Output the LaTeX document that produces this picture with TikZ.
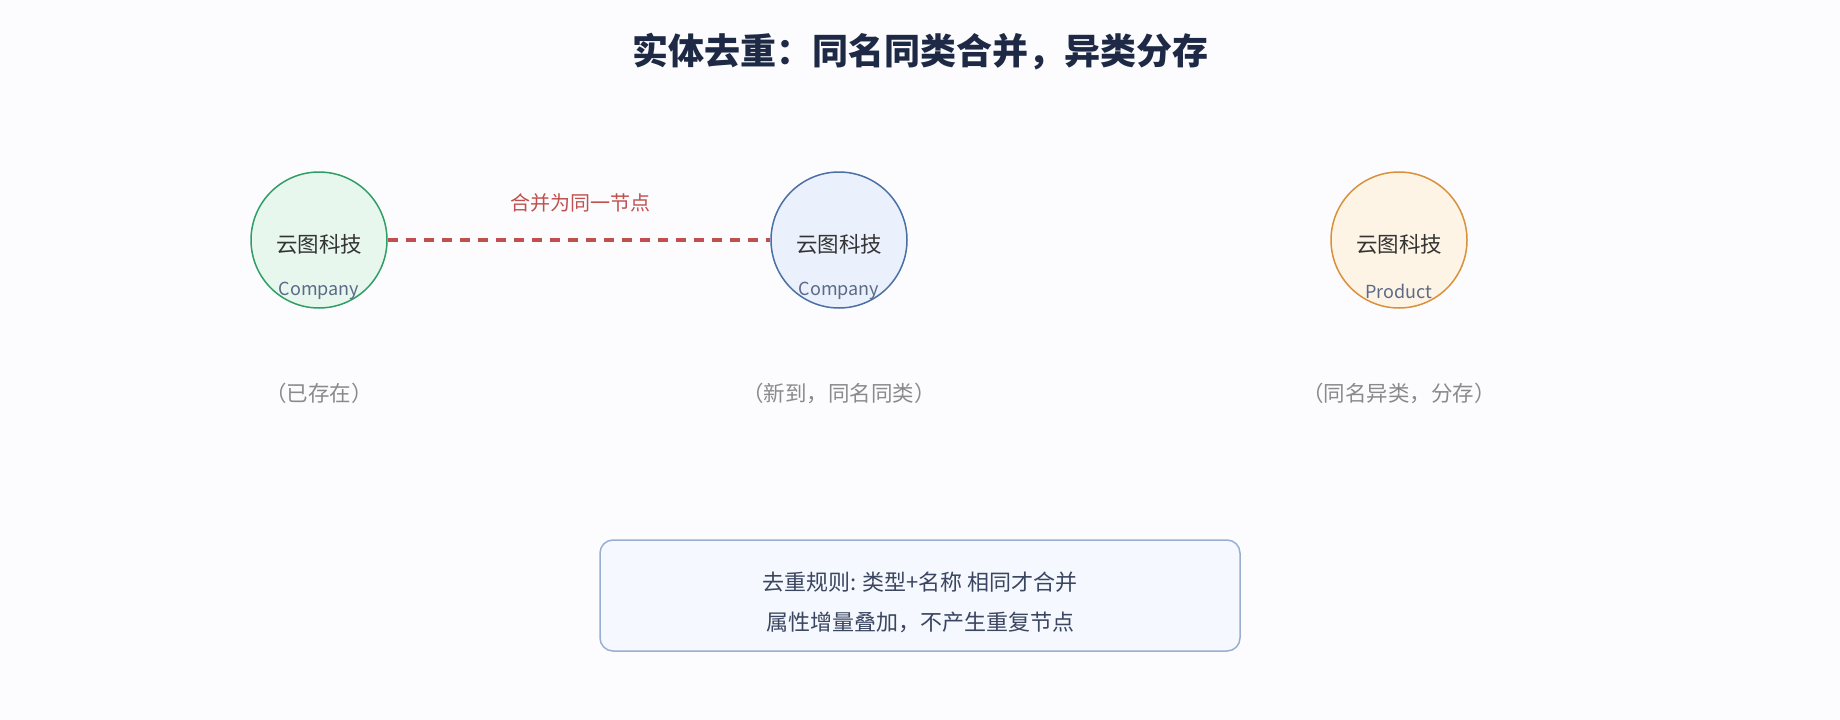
\documentclass[tikz,border=0pt]{standalone}
\usepackage{fontspec}
\setmainfont{Noto Sans CJK SC}
\begin{document}
\begin{tikzpicture}[x=1pt,y=-1pt,
  ent/.style={circle,minimum size=136pt,inner sep=0pt,line width=1.5pt},
  entname/.style={font=\fontsize{21.5}{24}\selectfont,text=black!80},
  enttype/.style={font=\fontsize{18}{21}\selectfont,text=typecol},
  caption/.style={font=\fontsize{21.5}{25}\selectfont,text=capcol},
  ruletext/.style={font=\fontsize{22}{26}\selectfont,text=boxtext},
  mergeline/.style={draw=mergecol,line width=3.5pt,dash pattern=on 10pt off 8pt}]
\definecolor{bgcol}{HTML}{FCFCFE}
\definecolor{titlecol}{HTML}{1E2A45}
\definecolor{gstroke}{HTML}{2E9E64}
\definecolor{gfill}{HTML}{E7F7EE}
\definecolor{bstroke}{HTML}{4A6FA5}
\definecolor{bfill}{HTML}{EAF1FC}
\definecolor{ostroke}{HTML}{D9903A}
\definecolor{ofill}{HTML}{FEF4E6}
\definecolor{typecol}{HTML}{5A6A88}
\definecolor{capcol}{HTML}{8A8A8A}
\definecolor{mergecol}{HTML}{C0504D}
\definecolor{boxstroke}{HTML}{9AAFD0}
\definecolor{boxfill}{HTML}{F5F8FE}
\definecolor{boxtext}{HTML}{3A4560}
\fill[bgcol] (0,0) rectangle (1840,720);
\useasboundingbox (0,0) rectangle (1840,720);
\node[font=\fontsize{36}{40}\selectfont\bfseries,text=titlecol] (title) at (920,52) {实体去重：同名同类合并，异类分存};
% entities
\node[ent,draw=gstroke,fill=gfill] (e1) at (319,240) {};
\node[ent,draw=bstroke,fill=bfill] (e2) at (839,240) {};
\node[ent,draw=ostroke,fill=ofill] (e3) at (1399,240) {};
\node[entname] (n1) at (319,244) {云图科技};
\node[entname] (n2) at (839,244) {云图科技};
\node[entname] (n3) at (1399,244) {云图科技};
\node[enttype] (t1) at (319,291) {Company};
\node[enttype] (t2) at (839,291) {Company};
\node[enttype] (t3) at (1399,291) {Product};
% merge connector
\draw[mergeline] (e1.east) -- (e2.west);
\node[font=\fontsize{20}{23}\selectfont,text=mergecol] (ml) at (580,203) {合并为同一节点};
% captions
\node[caption] (c1) at (319,393) {（已存在）};
\node[caption] (c2) at (839,393) {（新到，同名同类）};
\node[caption] (c3) at (1399,393) {（同名异类，分存）};
% rule box
\draw[draw=boxstroke,fill=boxfill,line width=1.5pt,rounded corners=13pt] (600,540) rectangle (1240,651);
\node[ruletext] (r1) at (920,582) {去重规则: 类型+名称 相同才合并};
\node[ruletext] (r2) at (920,622) {属性增量叠加，不产生重复节点};
\end{tikzpicture}
\end{document}
